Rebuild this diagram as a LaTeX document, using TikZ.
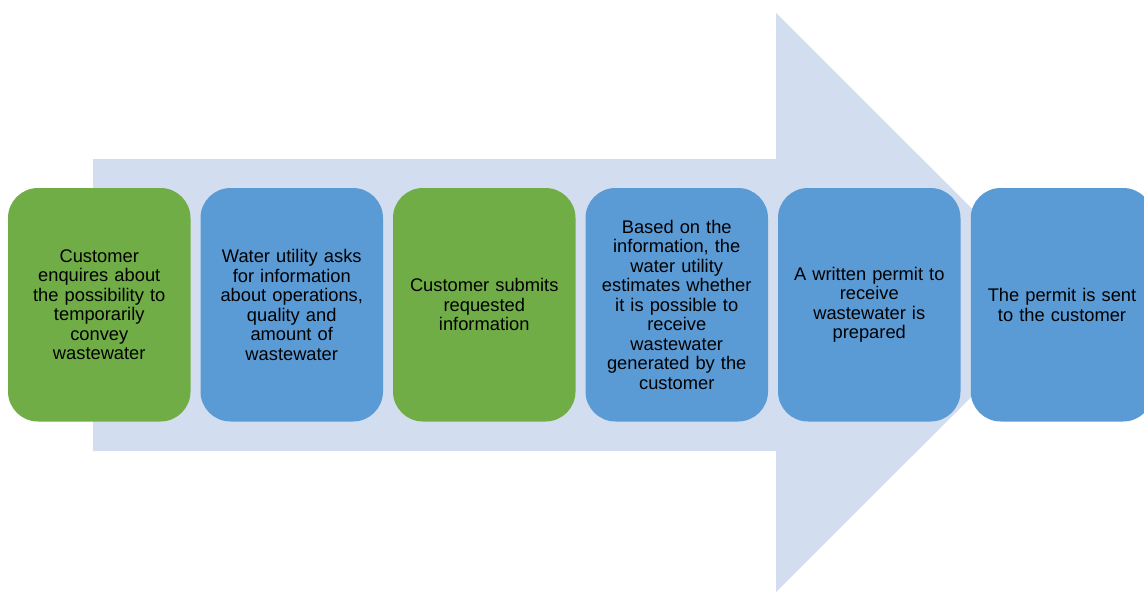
\documentclass[tikz,border=0pt]{standalone}
\usepackage{fontspec}
\setmainfont{Liberation Sans}
\definecolor{arrowbg}{HTML}{D2DEEF}
\definecolor{stepgreen}{HTML}{70AD47}
\definecolor{stepblue}{HTML}{5B9BD5}
\begin{document}
\begin{tikzpicture}[x=1pt,y=-1pt,
  stepbox/.style={rounded corners=30pt, minimum width=182.5pt, minimum height=233.5pt,
    inner sep=4pt, align=center, text width=170pt,
    font=\fontsize{18.3pt}{19.5pt}\selectfont, text=black},
  greenbox/.style={stepbox, fill=stepgreen},
  bluebox/.style={stepbox, fill=stepblue}]
\useasboundingbox (0,0) rectangle (1144,592);
\clip (0,0) rectangle (1144,592);
\fill[arrowbg] (93,159) -- (776,159) -- (776,13) -- (1066,302.5) -- (776,592) -- (776,451) -- (93,451) -- cycle;
\node[greenbox] (s1) at (99.25,304.75) {Customer\\enquires about\\the possibility to\\temporarily\\convey\\wastewater};
\node[bluebox] (s2) at (291.75,304.75) {Water utility asks\\for information\\about operations,\\quality and\\amount of\\wastewater};
\node[greenbox] (s3) at (484.25,304.75) {Customer submits\\requested\\information};
\node[bluebox] (s4) at (676.75,304.75) {Based on the\\information, the\\water utility\\estimates whether\\it is possible to\\receive\\wastewater\\generated by the\\customer};
\node[bluebox] (s5) at (869.25,304.75) {A written permit to\\receive\\wastewater is\\prepared};
\node[bluebox] (s6) at (1062,304.75) {The permit is sent\\to the customer};
\end{tikzpicture}
\end{document}
